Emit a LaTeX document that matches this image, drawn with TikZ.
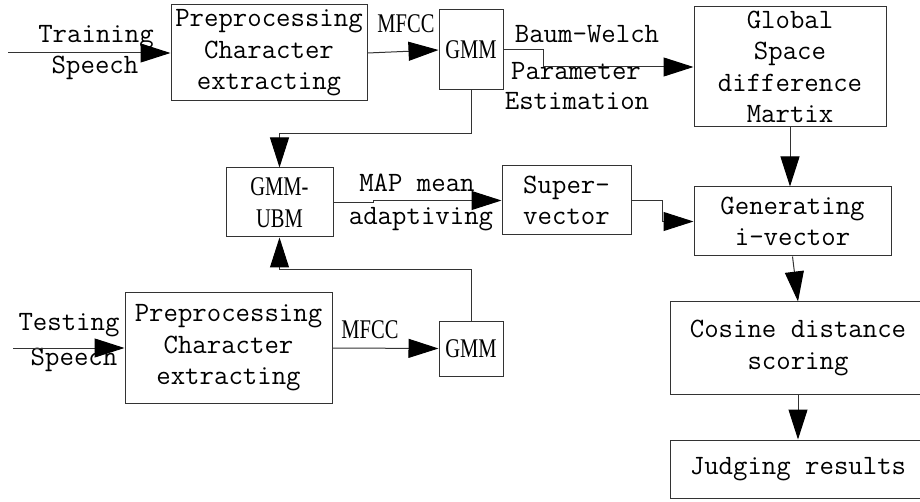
\documentclass[tikz,border=0pt]{standalone}
\usepackage{fontspec}
\newfontfamily\tnr[FakeStretch=0.76]{Liberation Serif}
\usetikzlibrary{arrows.meta}
\newcommand{\monotext}{\fontsize{28}{31.5}\selectfont\ttfamily}
\newcommand{\seriftext}{\fontsize{27}{31.5}\selectfont\tnr}
\tikzset{
  linecol/.style={draw=black!80, line width=1pt},
  box/.style={linecol, inner sep=0pt, align=center, font=\monotext},
  lbl/.style={inner sep=0pt, align=center, font=\monotext},
  slbl/.style={inner sep=0pt, align=center, font=\seriftext},
  flow/.style={linecol, -{Triangle[length=30pt,width=19pt,color=black,fill=black]}},
}
\begin{document}
\begin{tikzpicture}[x=1pt, y=-1pt]
\clip (0,0) rectangle (920,502);
\fill[white] (0,0) rectangle (920,502);

% training branch
\node[box, minimum width=196, minimum height=96] (pre1) at (269,53) {Preprocessing\\Character\\extracting};
\node[box, font=\seriftext, minimum width=64, minimum height=80] (gmm1) at (471,50) {GMM};
\node[box, minimum width=192, minimum height=120] (glob) at (790,67) {Global\\Space\\difference\\Martix};
\coordinate (in1) at (8,53);
\node[lbl] (trainA) at (96,37) {Training};
\node[lbl] (trainB) at (95,68) {Speech};
\node[slbl] (mfccA) at (406,24) {MFCC};
\node[lbl] (bw) at (587,34) {Baum-Welch};
\node[lbl] (param) at (576,71) {Parameter};
\node[lbl] (estim) at (577,101) {Estimation};

% adaptation row
\node[box, font=\seriftext, minimum width=107, minimum height=69] (ubm) at (279.5,202.5) {GMM-\\UBM};
\node[box, minimum width=129, minimum height=69] (sup) at (566.5,200.5) {Super-\\vector};
\node[box, minimum width=197, minimum height=69] (gen) at (792.5,221.5) {Generating\\i-vector};
\node[lbl] (mapA) at (417,183) {MAP mean};
\node[lbl] (mapB) at (421,219) {adaptiving};

% testing branch
\node[box, minimum width=207, minimum height=110] (pre2) at (228.5,348) {Preprocessing\\Character\\extracting};
\node[box, font=\seriftext, minimum width=64, minimum height=55] (gmm2) at (471,348.5) {GMM};
\coordinate (in2) at (13,348);
\node[lbl] (testA) at (69,325) {Testing};
\node[lbl] (testB) at (74,360) {Speech};
\node[slbl] (mfccB) at (370,330) {MFCC};

% scoring column
\node[box, minimum width=256, minimum height=92] (cos) at (798,348) {Cosine distance\\scoring};
\node[box, minimum width=256, minimum height=58] (jud) at (798,469) {Judging results};

% connectors
\draw[flow] (in1) -- (pre1.west);
\draw[flow] (pre1.east) -- (gmm1.west);
\draw[flow] (gmm1.east) -- ++(40,0) |- (glob.west);
\draw[flow] (glob.south) -- (glob.south |- gen.north);
\draw[flow] (gmm1.south) -- ++(0,43) -| (ubm.north);
\draw[flow] (ubm.east) -- ++(40,0) |- (sup.west);
\draw[flow] (sup.east) -- ++(31,0) |- (gen.west);
\draw[flow] (in2) -- (pre2.west);
\draw[flow] (pre2.east) -- (gmm2.west);
\draw[flow] (gmm2.north) -- ++(0,-51) -| (ubm.south);
\draw[flow] (gen.south) -- (cos.north);
\draw[flow] (cos.south) -- (jud.north);
\end{tikzpicture}
\end{document}
